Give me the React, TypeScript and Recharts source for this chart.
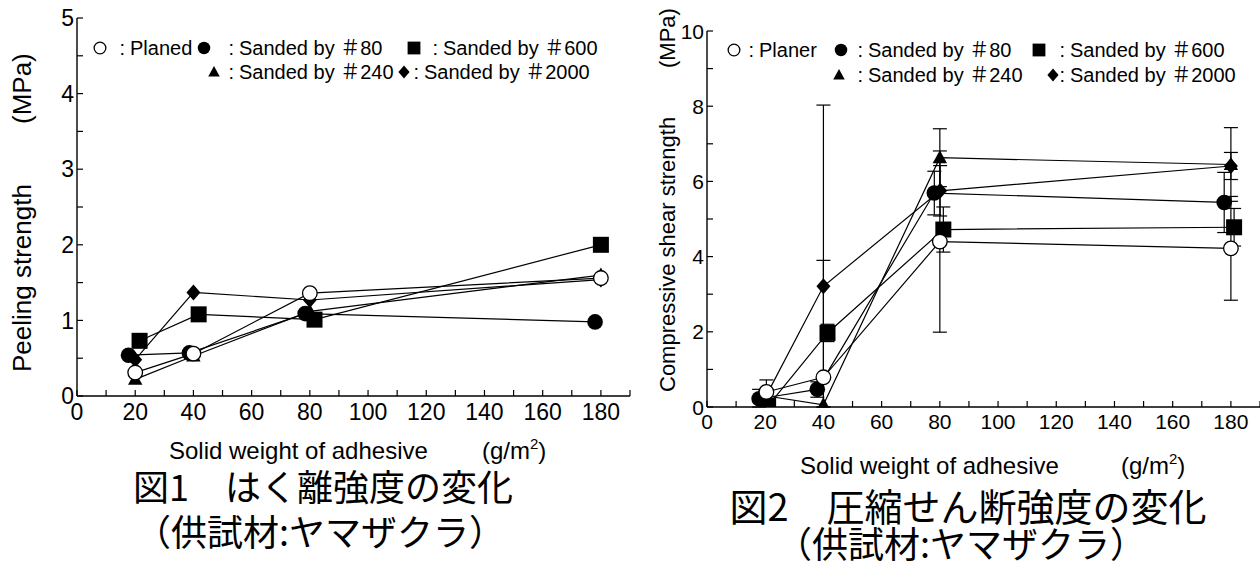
import React from 'react';
import { ScatterChart, Scatter, XAxis, YAxis, ErrorBar } from 'recharts';

// ---------- axis ticks ----------
const weightTicks = [0, 10, 20, 30, 40, 50, 60, 70, 80, 90, 100, 110, 120, 130, 140, 150, 160, 170, 180, 190];
const weightLabels = [0, 20, 40, 60, 80, 100, 120, 140, 160, 180];
const peelTicks = [0, 0.5, 1, 1.5, 2, 2.5, 3, 3.5, 4, 4.5, 5];
const peelLabels = [0, 1, 2, 3, 4, 5];
const shearTicks = [0, 1, 2, 3, 4, 5, 6, 7, 8, 9, 10];
const shearLabels = [0, 2, 4, 6, 8, 10];

// ---------- Fig.1 peeling strength ----------
const peelPlanedX = [20, 40, 80, 180];
const peelPlanedY = [0.31, 0.56, 1.36, 1.56];
const peel80X = [17.7, 38.6, 78.4, 178];
const peel80Y = [0.54, 0.57, 1.09, 0.98];
const peel240X = [20, 40, 80, 180];
const peel240Y = [0.22, 0.53, 1.12, 1.6];
const peel600X = [21.5, 41.8, 81.6, 180];
const peel600Y = [0.73, 1.08, 1.01, 2.0];
const peel2000X = [20, 40, 80, 180];
const peel2000Y = [0.48, 1.37, 1.27, 1.54];

// ---------- Fig.2 compressive shear strength ----------
const shearPlanerX = [20.4, 40, 80, 180];
const shearPlanerY = [0.4, 0.79, 4.4, 4.22];
const shearPlanerErr = [[0.32, 0.32], null, [2.41, 2.41], [1.38, 1.38]];
const shear80X = [17.9, 37.9, 78.1, 177.7];
const shear80Y = [0.22, 0.47, 5.69, 5.44];
const shear80Err = [[0.22, 0.25], [0.21, 0.2], [0.58, 0.58], [0.8, 0.8]];
const shear240X = [20, 40, 80, 180];
const shear240Y = [0.3, 0.06, 6.63, 6.45];
const shear240Err = [null, [0.06, 3.84], [0.77, 0.77], [0.98, 0.98]];
const shear600X = [21, 41.4, 81.2, 181.1];
const shear600Y = [0.03, 1.97, 4.72, 4.78];
const shear600Err = [null, [0.23, 0.23], [0.6, 0.6], [0.5, 0.5]];
const shear2000X = [20, 40, 80.1, 180];
const shear2000Y = [0.25, 3.21, 5.75, 6.41];
const shear2000Err = [null, [3.21, 4.82], [0.67, 0.67], [0.36, 0.36]];

const toPoints = (xs: number[], ys: number[], errs?: (number[] | null)[]) =>
  xs.map((x, i) => ({ x, y: ys[i], e: errs ? errs[i] : null }));

// ---------- marker shapes ----------
type Kind = 'open' | 'circle' | 'square' | 'triangle' | 'diamond';
const Marker = ({ kind, cx, cy, s = 1 }: { kind: Kind; cx: number; cy: number; s?: number }) => {
  if (kind === 'open') return <circle cx={cx} cy={cy} r={7.3 * s} fill="#fff" stroke="#000" strokeWidth={1.3} />;
  if (kind === 'circle') return <circle cx={cx} cy={cy} r={7.8 * s} fill="#000" />;
  if (kind === 'square') {
    const h = 8 * s;
    return <rect x={cx - h} y={cy - h} width={2 * h} height={2 * h} fill="#000" />;
  }
  if (kind === 'triangle') {
    const w = 7.2 * s;
    return <path d={`M${cx},${cy - 7.5 * s} L${cx + w},${cy + 5.5 * s} L${cx - w},${cy + 5.5 * s} Z`} fill="#000" />;
  }
  const w = 7 * s;
  const h = 8 * s;
  return <path d={`M${cx},${cy - h} L${cx + w},${cy} L${cx},${cy + h} L${cx - w},${cy} Z`} fill="#000" />;
};
const shapeOf = (kind: Kind) => (p: any) => <Marker kind={kind} cx={p.cx} cy={p.cy} />;

// ---------- ticks ----------
const makeXTick = (labels: number[], fs: number) => (p: any) => {
  const { x, y, payload } = p;
  const major = labels.includes(payload.value);
  return (
    <g>
      <line x1={x} y1={y} x2={x} y2={y - 6} stroke="#000" strokeWidth={1.2} />
      {major && (
        <text x={x} y={y + fs + 1} textAnchor="middle" fontSize={fs} fill="#000" fontFamily='"Liberation Sans", Arial, sans-serif'>
          {payload.value}
        </text>
      )}
    </g>
  );
};
const makeYTick = (labels: number[], fs: number) => (p: any) => {
  const { x, y, payload } = p;
  const major = labels.includes(payload.value);
  return (
    <g>
      <line x1={x} y1={y} x2={x + 6} y2={y} stroke="#000" strokeWidth={1.2} />
      {major && (
        <text x={x - 3} y={y + fs * 0.36} textAnchor="end" fontSize={fs} fill="#000" fontFamily='"Liberation Sans", Arial, sans-serif'>
          {payload.value}
        </text>
      )}
    </g>
  );
};

const lineStyle = { stroke: '#000', strokeWidth: 1.2 };
const axisStyle = { stroke: '#000', strokeWidth: 1.4 };

const LATIN = '"Liberation Sans", Arial, sans-serif';
const CJK = '"Noto Sans CJK JP", sans-serif';

type LegendItem = { kind: Kind; cx: number; tx: number; label: string };
const Legend = ({ items, y, fs }: { items: LegendItem[]; y: number; fs: number }) => (
  <g>
    {items.map((it, i) => (
      <g key={i}>
        <Marker kind={it.kind} cx={it.cx} cy={y} s={0.8} />
        <text x={it.tx - 5} y={y + fs * 0.36} textAnchor="end" fontSize={fs} fontFamily={LATIN}>:</text>
        <text x={it.tx} y={y + fs * 0.36} fontSize={fs} fontFamily={`${LATIN}, ${CJK}`}>{it.label}</text>
      </g>
    ))}
  </g>
);

export default function App() {
  const p1 = [
    { kind: 'circle' as Kind, d: toPoints(peel80X, peel80Y) },
    { kind: 'square' as Kind, d: toPoints(peel600X, peel600Y) },
    { kind: 'triangle' as Kind, d: toPoints(peel240X, peel240Y) },
    { kind: 'diamond' as Kind, d: toPoints(peel2000X, peel2000Y) },
    { kind: 'open' as Kind, d: toPoints(peelPlanedX, peelPlanedY) },
  ];
  const p2 = [
    { kind: 'circle' as Kind, d: toPoints(shear80X, shear80Y, shear80Err) },
    { kind: 'square' as Kind, d: toPoints(shear600X, shear600Y, shear600Err) },
    { kind: 'triangle' as Kind, d: toPoints(shear240X, shear240Y, shear240Err) },
    { kind: 'diamond' as Kind, d: toPoints(shear2000X, shear2000Y, shear2000Err) },
    { kind: 'open' as Kind, d: toPoints(shearPlanerX, shearPlanerY, shearPlanerErr) },
  ];
  return (
    <div style={{ position: 'absolute', left: 0, top: 0, width: 1260, height: 568, background: '#fff', overflow: 'hidden' }}>
      <div style={{ position: 'absolute', left: 0, top: 0 }}>
        <ScatterChart width={645} height={440} margin={{ top: 18, right: 15, left: 47, bottom: 14 }}>
          <XAxis type="number" dataKey="x" domain={[0, 190]} ticks={weightTicks} interval={0} tickSize={0} tickMargin={0}
            tickLine={false} axisLine={axisStyle} tick={makeXTick(weightLabels, 23)} height={30} allowDataOverflow />
          <YAxis type="number" dataKey="y" domain={[0, 5]} ticks={peelTicks} interval={0} tickSize={0} tickMargin={0}
            tickLine={false} axisLine={axisStyle} tick={makeYTick(peelLabels, 23)} width={30} allowDataOverflow />
          {p1.map((s, i) => (
            <Scatter key={i} data={s.d} line={lineStyle} lineType="joint" shape={shapeOf(s.kind)} isAnimationActive={false} />
          ))}
        </ScatterChart>
      </div>
      <div style={{ position: 'absolute', left: 640, top: 0 }}>
        <ScatterChart width={620} height={440} margin={{ top: 31, right: 0, left: 37, bottom: 3 }}>
          <XAxis type="number" dataKey="x" domain={[0, 190]} ticks={weightTicks} interval={0} tickSize={0} tickMargin={0}
            tickLine={false} axisLine={axisStyle} tick={makeXTick(weightLabels, 21)} height={30} allowDataOverflow />
          <YAxis type="number" dataKey="y" domain={[0, 10]} ticks={shearTicks} interval={0} tickSize={0} tickMargin={0}
            tickLine={false} axisLine={axisStyle} tick={makeYTick(shearLabels, 21)} width={30} allowDataOverflow />
          {p2.map((s, i) => (
            <Scatter key={i} data={s.d} line={lineStyle} lineType="joint" shape={shapeOf(s.kind)} isAnimationActive={false}>
              <ErrorBar dataKey="e" direction="y" width={7} stroke="#000" strokeWidth={1.2} />
            </Scatter>
          ))}
        </ScatterChart>
      </div>
      <svg width={1260} height={568} style={{ position: 'absolute', left: 0, top: 0, pointerEvents: 'none' }}>
        {/* legends */}
        <Legend y={48} fs={20} items={[
          { kind: 'open', cx: 100, tx: 130, label: 'Planed' },
          { kind: 'circle', cx: 204, tx: 239, label: 'Sanded by ＃80' },
          { kind: 'square', cx: 414, tx: 443, label: 'Sanded by ＃600' },
        ]} />
        <Legend y={72} fs={20} items={[
          { kind: 'triangle', cx: 214, tx: 239, label: 'Sanded by ＃240' },
          { kind: 'diamond', cx: 404, tx: 424, label: 'Sanded by ＃2000' },
        ]} />
        <Legend y={50} fs={20} items={[
          { kind: 'open', cx: 734, tx: 759, label: 'Planer' },
          { kind: 'circle', cx: 841, tx: 868, label: 'Sanded by ＃80' },
          { kind: 'square', cx: 1039, tx: 1070, label: 'Sanded by ＃600' },
        ]} />
        <Legend y={75} fs={20} items={[
          { kind: 'triangle', cx: 839, tx: 868, label: 'Sanded by ＃240' },
          { kind: 'diamond', cx: 1053, tx: 1070, label: 'Sanded by ＃2000' },
        ]} />
        {/* y titles */}
        <text transform="translate(31,372) rotate(-90)" fontSize={26} fontFamily={LATIN}>Peeling strength</text>
        <text transform="translate(31,124) rotate(-90)" fontSize={26} fontFamily={LATIN}>(MPa)</text>
        <text transform="translate(675,392) rotate(-90)" fontSize={22} fontFamily={LATIN}>Compressive shear strength</text>
        <text transform="translate(675,68) rotate(-90)" fontSize={22} fontFamily={LATIN}>(MPa)</text>
        {/* x titles */}
        <text x={169} y={459} fontSize={24} fontFamily={LATIN}>
          Solid weight of adhesive
          <tspan x={482}>(g/m</tspan>
          <tspan dy={-10} fontSize={15}>2</tspan>
          <tspan dy={10}>)</tspan>
        </text>
        <text x={800} y={474} fontSize={24} fontFamily={LATIN}>
          Solid weight of adhesive
          <tspan x={1121}>(g/m</tspan>
          <tspan dy={-10} fontSize={15}>2</tspan>
          <tspan dy={10}>)</tspan>
        </text>
        {/* captions */}
        <text x={323} y={501} textAnchor="middle" fontSize={36} fontFamily={CJK}>図1　はく離強度の変化</text>
        <text x={320} y={546} textAnchor="middle" fontSize={36} fontFamily={CJK}>（供試材:ヤマザクラ）</text>
        <text x={968} y={521} textAnchor="middle" fontSize={38} fontFamily={CJK}>図2　圧縮せん断強度の変化</text>
        <text x={961} y={558} textAnchor="middle" fontSize={36} fontFamily={CJK}>（供試材:ヤマザクラ）</text>
      </svg>
    </div>
  );
}
